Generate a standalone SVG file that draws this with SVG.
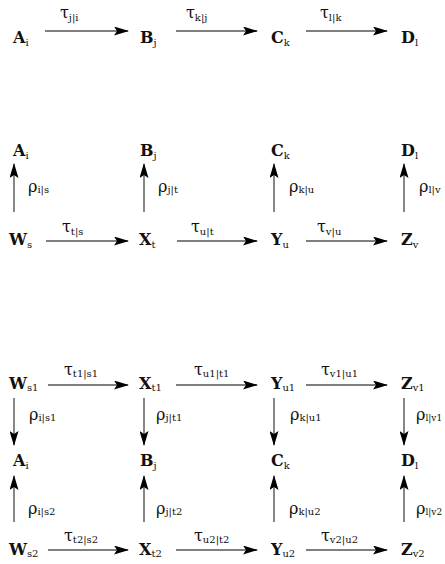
<svg xmlns="http://www.w3.org/2000/svg" width="445" height="564" viewBox="0 0 445 564">
<style>
text{font-family:"DejaVu Serif","Liberation Serif",serif;fill:#111}
.n{font-size:16px;font-weight:bold}
.l{font-size:16px}
.s{font-size:10px;font-weight:normal}
.e{font-size:9px}
.c line{stroke:#555;stroke-width:1.4;marker-end:url(#ah)}
</style>
<defs>
<marker id="ah" viewBox="0 0 15 9" refX="14" refY="4.5" markerWidth="15" markerHeight="9" markerUnits="userSpaceOnUse" orient="auto">
<path d="M0,0 L15,4.5 L0,9 L3,4.5 Z" fill="#000"/>
</marker>
</defs>
<rect width="445" height="564" fill="#fff"/>
<g class="c" id="connectors">
<line x1="45" y1="31" x2="128" y2="31"/>
<line x1="176" y1="31" x2="257" y2="31"/>
<line x1="306" y1="31" x2="387" y2="31"/>
<line x1="14" y1="212" x2="14" y2="164"/>
<line x1="144" y1="212" x2="144" y2="164"/>
<line x1="274" y1="212" x2="274" y2="164"/>
<line x1="404" y1="212" x2="404" y2="164"/>
<line x1="46" y1="241" x2="128" y2="241"/>
<line x1="177" y1="241" x2="257" y2="241"/>
<line x1="306" y1="241" x2="387" y2="241"/>
<line x1="48" y1="385" x2="128" y2="385"/>
<line x1="176" y1="385" x2="257" y2="385"/>
<line x1="306" y1="385" x2="387" y2="385"/>
<line x1="14" y1="398" x2="14" y2="445"/>
<line x1="144" y1="398" x2="144" y2="445"/>
<line x1="274" y1="398" x2="274" y2="445"/>
<line x1="404" y1="398" x2="404" y2="445"/>
<line x1="14" y1="522" x2="14" y2="476"/>
<line x1="144" y1="522" x2="144" y2="476"/>
<line x1="274" y1="522" x2="274" y2="476"/>
<line x1="404" y1="522" x2="404" y2="476"/>
<line x1="48" y1="550" x2="128" y2="550"/>
<line x1="176" y1="550" x2="257" y2="550"/>
<line x1="306" y1="550" x2="387" y2="550"/>
<text class="l" x="60" y="18">τ<tspan class="s" dy="3">j|i</tspan></text>
<text class="l" x="186" y="18">τ<tspan class="s" dy="3">k|j</tspan></text>
<text class="l" x="320" y="18">τ<tspan class="s" dy="3">l|k</tspan></text>
<text class="l" x="28" y="192">ρ<tspan class="s" dy="1">i|s</tspan></text>
<text class="l" x="158" y="192">ρ<tspan class="s" dy="1">j|t</tspan></text>
<text class="l" x="289" y="192">ρ<tspan class="s" dy="1">k|u</tspan></text>
<text class="l" x="419" y="192">ρ<tspan class="s" dy="1">l|v</tspan></text>
<text class="l" x="62" y="232">τ<tspan class="s" dy="3">t|s</tspan></text>
<text class="l" x="191" y="232">τ<tspan class="s" dy="3">u|t</tspan></text>
<text class="l" x="317" y="232">τ<tspan class="s" dy="3">v|u</tspan></text>
<text class="l" x="64" y="375">τ<tspan class="s" dy="2">t1|s1</tspan></text>
<text class="l" x="194" y="375">τ<tspan class="s" dy="2">u1|t1</tspan></text>
<text class="l" x="321" y="375">τ<tspan class="s" dy="2">v1|u1</tspan></text>
<text class="l" x="29" y="420">ρ<tspan class="s" dy="1">i|s1</tspan></text>
<text class="l" x="156" y="420">ρ<tspan class="s" dy="1">j|t1</tspan></text>
<text class="l" x="290" y="420">ρ<tspan class="s" dy="1">k|u1</tspan></text>
<text class="l" x="416" y="420">ρ<tspan class="s e" dy="1">l|v1</tspan></text>
<text class="l" x="28" y="514">ρ<tspan class="s" dy="1">i|s2</tspan></text>
<text class="l" x="156" y="514">ρ<tspan class="s" dy="1">j|t2</tspan></text>
<text class="l" x="289" y="514">ρ<tspan class="s" dy="1">k|u2</tspan></text>
<text class="l" x="416" y="514">ρ<tspan class="s e" dy="1">l|v2</tspan></text>
<text class="l" x="64" y="541">τ<tspan class="s" dy="2">t2|s2</tspan></text>
<text class="l" x="194" y="541">τ<tspan class="s" dy="2">u2|t2</tspan></text>
<text class="l" x="321" y="541">τ<tspan class="s" dy="2">v2|u2</tspan></text>
</g>
<g id="A1"><text class="n" x="13" y="43">A<tspan class="s" dy="3">i</tspan></text></g>
<g id="B1"><text class="n" x="140" y="43">B<tspan class="s" dy="3">j</tspan></text></g>
<g id="C1"><text class="n" x="271" y="43">C<tspan class="s" dy="3">k</tspan></text></g>
<g id="D1"><text class="n" x="401" y="43">D<tspan class="s" dy="3">l</tspan></text></g>
<g id="A2"><text class="n" x="13" y="156">A<tspan class="s" dy="3">i</tspan></text></g>
<g id="B2"><text class="n" x="140" y="156">B<tspan class="s" dy="3">j</tspan></text></g>
<g id="C2"><text class="n" x="271" y="156">C<tspan class="s" dy="3">k</tspan></text></g>
<g id="D2"><text class="n" x="401" y="156">D<tspan class="s" dy="3">l</tspan></text></g>
<g id="W2"><text class="n" x="9" y="245">W<tspan class="s" dy="3">s</tspan></text></g>
<g id="X2"><text class="n" x="139" y="245">X<tspan class="s" dy="3">t</tspan></text></g>
<g id="Y2"><text class="n" x="271" y="245">Y<tspan class="s" dy="3">u</tspan></text></g>
<g id="Z2"><text class="n" x="401" y="245">Z<tspan class="s" dy="3">v</tspan></text></g>
<g id="W3"><text class="n" x="9" y="389">W<tspan class="s" dy="2">s1</tspan></text></g>
<g id="X3"><text class="n" x="139" y="389">X<tspan class="s" dy="2">t1</tspan></text></g>
<g id="Y3"><text class="n" x="271" y="389">Y<tspan class="s" dy="2">u1</tspan></text></g>
<g id="Z3"><text class="n" x="401" y="389">Z<tspan class="s" dy="2">v1</tspan></text></g>
<g id="A3"><text class="n" x="13" y="466">A<tspan class="s" dy="3">i</tspan></text></g>
<g id="B3"><text class="n" x="140" y="466">B<tspan class="s" dy="3">j</tspan></text></g>
<g id="C3"><text class="n" x="271" y="466">C<tspan class="s" dy="3">k</tspan></text></g>
<g id="D3"><text class="n" x="401" y="466">D<tspan class="s" dy="3">l</tspan></text></g>
<g id="W4"><text class="n" x="9" y="555">W<tspan class="s" dy="2">s2</tspan></text></g>
<g id="X4"><text class="n" x="139" y="555">X<tspan class="s" dy="2">t2</tspan></text></g>
<g id="Y4"><text class="n" x="271" y="555">Y<tspan class="s" dy="2">u2</tspan></text></g>
<g id="Z4"><text class="n" x="401" y="555">Z<tspan class="s" dy="2">v2</tspan></text></g>
</svg>
